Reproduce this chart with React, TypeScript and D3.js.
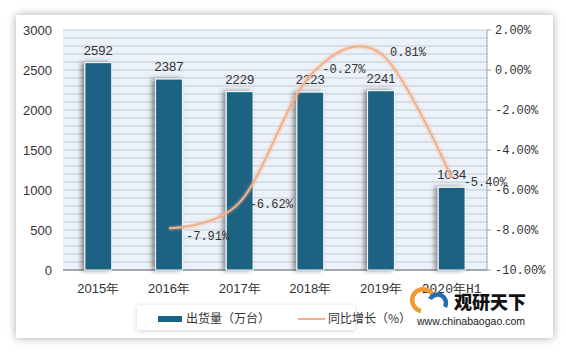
import React from "react";
import * as d3 from "d3";

const categories = ["2015年", "2016年", "2017年", "2018年", "2019年", "2020年H1"];
const shipments = [2592, 2387, 2229, 2223, 2241, 1034];
const growthCats = ["2016年", "2017年", "2018年", "2019年", "2020年H1"];
const growth = [-7.91, -6.62, -0.27, 0.81, -5.40];
const leftTicks = [0, 500, 1000, 1500, 2000, 2500, 3000];
const rightTicks = [-10, -8, -6, -4, -2, 0, 2];
const legendLabels = ["出货量（万台）", "同比增长（%）"];

const W = 566, H = 355;
const M = { left: 63, right: 487, top: 30, bottom: 270 };
const barColor = "#1a6283";
const lineColor = "#f5b08a";
const serif = "'Liberation Mono', 'DejaVu Sans Mono', monospace";
const sans = "'Liberation Sans', Arial, sans-serif";

export default function App() {
  const x = d3.scaleBand().domain(categories).range([M.left, M.right]).paddingInner(0.62).paddingOuter(0.31);
  const yL = d3.scaleLinear().domain([0, 3000]).range([M.bottom, M.top]);
  const yR = d3.scaleLinear().domain([-10, 2]).range([M.bottom, M.top]);
  const cx = (c: string) => (x(c) as number) + x.bandwidth() / 2;
  const minor = d3.range(0, 3001, 100);
  const pts: [number, number][] = growthCats.map((c, i) => [cx(c), yR(growth[i])]);
  const line = d3.line().curve(d3.curveCardinal.tension(0))(pts) as string;
  const labelOffsets = [
    [17, 12], [10, 6], [12, -2], [9, 2], [12, 8],
  ];
  return (
    <svg width={W} height={H} style={{ position: "absolute", left: 0, top: 0 }}>
      <defs>
        <filter id="cardShadow" x="-10%" y="-10%" width="120%" height="120%">
          <feDropShadow dx="0" dy="0" stdDeviation="4" floodColor="#000" floodOpacity="0.35" />
        </filter>
        <filter id="legShadow" x="-10%" y="-40%" width="120%" height="180%">
          <feDropShadow dx="0" dy="1" stdDeviation="2.5" floodColor="#000" floodOpacity="0.18" />
        </filter>
        <filter id="barShadow" x="-50%" y="-10%" width="200%" height="120%">
          <feDropShadow dx="-3" dy="0" stdDeviation="2.5" floodColor="#000" floodOpacity="0.45" />
        </filter>
        <filter id="glow" x="-10%" y="-10%" width="120%" height="120%">
          <feGaussianBlur stdDeviation="1.2" />
        </filter>
      </defs>
      <rect x={0} y={0} width={W} height={H} fill="#fff" />
      <rect x={16} y={15} width={537} height={323} fill="#fff" filter="url(#cardShadow)" />
      <rect x={M.left} y={M.top} width={M.right - M.left} height={M.bottom - M.top} fill="#ebf2f9" />
      {minor.map((v) => (
        <line key={v} x1={M.left} x2={M.right} y1={yL(v)} y2={yL(v)} stroke="#c5cbd1" strokeWidth={1} />
      ))}
      <line x1={M.left} x2={M.right} y1={M.bottom} y2={M.bottom} stroke="#8f9499" strokeWidth={1.5} />
      <line x1={M.right} x2={M.right} y1={M.top} y2={M.bottom} stroke="#a0a5aa" strokeWidth={1} />
      {rightTicks.map((t) => (
        <g key={t}>
          <line x1={M.right} x2={M.right + 4} y1={yR(t)} y2={yR(t)} stroke="#a0a5aa" />
          <text x={M.right + 8} y={yR(t) + 4} fontFamily={serif} fontSize={12} fill="#333">
            {t.toFixed(2) + "%"}
          </text>
        </g>
      ))}
      {leftTicks.map((t) => (
        <text key={t} x={52} y={yL(t) + 4.5} textAnchor="end" fontFamily={sans} fontSize={13} fill="#333">
          {t}
        </text>
      ))}
      {categories.map((c, i) => (
        <g key={c}>
          <rect x={x(c)} y={yL(shipments[i])} width={x.bandwidth()} height={M.bottom - yL(shipments[i])}
            fill={barColor} stroke="#fff" strokeWidth={1} filter="url(#barShadow)" />
          <text x={cx(c)} y={yL(shipments[i]) - 8} textAnchor="middle" fontFamily={sans} fontSize={13} fill="#333">
            {shipments[i]}
          </text>
          <text x={cx(c)} y={293} textAnchor="middle" fontFamily={c.includes("H") ? serif : sans} fontSize={13} fill="#333">
            {c}
          </text>
        </g>
      ))}
      <path d={line} fill="none" stroke={lineColor} strokeWidth={4} opacity={0.45} filter="url(#glow)" />
      <path d={line} fill="none" stroke={lineColor} strokeWidth={2} />
      {growthCats.map((c, i) => (
        <text key={c} x={cx(c) + labelOffsets[i][0]} y={yR(growth[i]) + labelOffsets[i][1]}
          fontFamily={serif} fontSize={12} fill="#333">
          {growth[i].toFixed(2) + "%"}
        </text>
      ))}
      <rect x={137} y={305} width={218} height={25} fill="#fff" filter="url(#legShadow)" />
      <rect x={158} y={316} width={24} height={6} fill={barColor} />
      <text x={186} y={323} fontFamily="'Noto Sans CJK SC', sans-serif" fontSize={12} fill="#333">{legendLabels[0]}</text>
      <line x1={298} x2={325} y1={319} y2={319} stroke={lineColor} strokeWidth={2} />
      <text x={328} y={323} fontFamily="'Noto Sans CJK SC', sans-serif" fontSize={12} fill="#333">{legendLabels[1]}</text>
      <g>
        <path d="M 421 311 a 11 11 0 1 1 13 -13" fill="none" stroke="#f29a2e" strokeWidth={4.5} />
        <path d="M 430 299 a 8 8 0 1 1 15 8" fill="none" stroke="#1f6fb2" strokeWidth={4.5} />
        <text x={454} y={309} fontFamily="'Noto Sans CJK SC', sans-serif" fontWeight={900} fontSize={18} fill="#111">观研天下</text>
        <text x={417} y={325} fontFamily={sans} fontSize={10.5} fill="#222">www.chinabaogao.com</text>
      </g>
    </svg>
  );
}
